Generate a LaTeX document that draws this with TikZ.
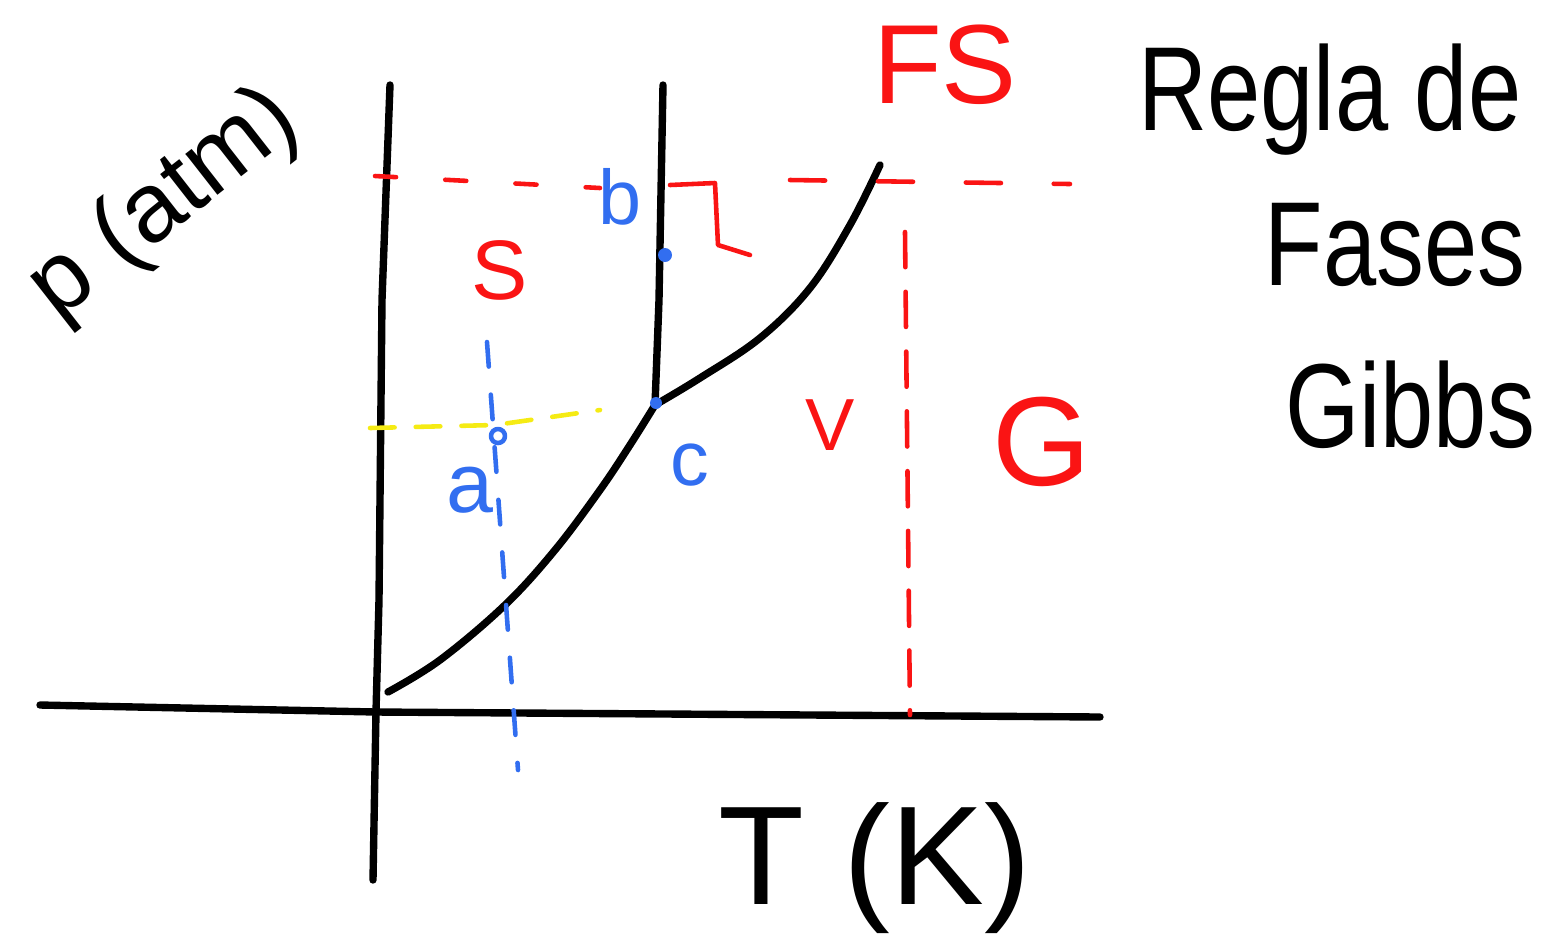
\documentclass[tikz,border=0pt]{standalone}
\usepackage{fontspec}
\setmainfont{Liberation Sans}
\definecolor{penred}{RGB}{250,20,20}
\definecolor{penblue}{RGB}{50,110,240}
\definecolor{penyellow}{RGB}{245,235,20}
\begin{document}
\begin{tikzpicture}[x=0.01cm,y=-0.01cm,
    ink/.style={line width=2.1pt,line cap=round,line join=round},
    pen/.style={line width=1.3pt,line cap=round,line join=round},
    lbl/.style={inner sep=0pt}]
    \useasboundingbox (0,0) rectangle (1547,938);
    % axes
    \coordinate (O) at (376,712);
    \coordinate (tp) at (655,405);
    \draw[ink] (40,705) -- (O) -- (1100,717);
    \draw[ink] (390,85) -- (382,300) -- (379,600) -- (O) -- (373,880);
    % fusion line and vapour curve
    \draw[ink] (663,85) -- (659,300) -- (tp);
    \draw[ink] plot[smooth,tension=0.6] coordinates {(388,692) (440,660) (505,605) (555,550) (600,490) (630,445) (tp)};
    \draw[ink] plot[smooth,tension=0.6] coordinates {(tp) (700,378) (760,338) (810,288) (850,225) (880,165)};
    % guide lines
    \draw[pen,penred,dash pattern=on 6pt off 14pt] (375,176) -- (600,188);
    \draw[pen,penred] (670,185) -- (715,183) -- (718,245) -- (750,255);
    \draw[pen,penred,dash pattern=on 10pt off 15pt] (790,180) -- (1070,184);
    \draw[pen,penred,dash pattern=on 10pt off 7pt] (905,232) -- (910,715);
    \draw[pen,penblue,dash pattern=on 7pt off 8pt] (487,342) -- (518,770);
    \draw[pen,penyellow,dash pattern=on 7pt off 6pt] (370,428) -- (495,425) -- (600,410);
    % points
    \fill[penblue] (665,255) circle (7);
    \fill[penblue] (656,403) circle (6);
    \draw[pen,penblue] (498,436) circle (7);
    % labels
    \node[lbl,penblue,font=\fontsize{22}{24}\selectfont] (b) at (620,197) {b};
    \node[lbl,penblue,font=\fontsize{22}{24}\selectfont] (c) at (690,465) {c};
    \node[lbl,penblue,font=\fontsize{24}{26}\selectfont] (a) at (470,490) {a};
    \node[lbl,penred,font=\fontsize{24}{26}\selectfont] (S) at (500,270) {S};
    \node[lbl,penred,font=\fontsize{21}{23}\selectfont] (V) at (830,425) {V};
    \node[lbl,penred,font=\fontsize{36}{40}\selectfont] (G) at (1042,442) {G};
    \node[lbl,penred,font=\fontsize{32}{36}\selectfont] (FS) at (945,65) {FS};
    \node[lbl,rotate=38,font=\fontsize{28}{30}\selectfont] (p) at (165,205) {p (atm)};
    \node[lbl,font=\fontsize{40}{44}\selectfont] (T) at (875,868) {T (K)};
    \node[lbl,xscale=0.8,font=\fontsize{34}{38}\selectfont] (regla) at (1330,100) {Regla de};
    \node[lbl,xscale=0.8,font=\fontsize{34}{38}\selectfont] (fases) at (1395,245) {Fases};
    \node[lbl,xscale=0.8,font=\fontsize{34}{38}\selectfont] (gibbs) at (1410,405) {Gibbs};
\end{tikzpicture}
\end{document}
